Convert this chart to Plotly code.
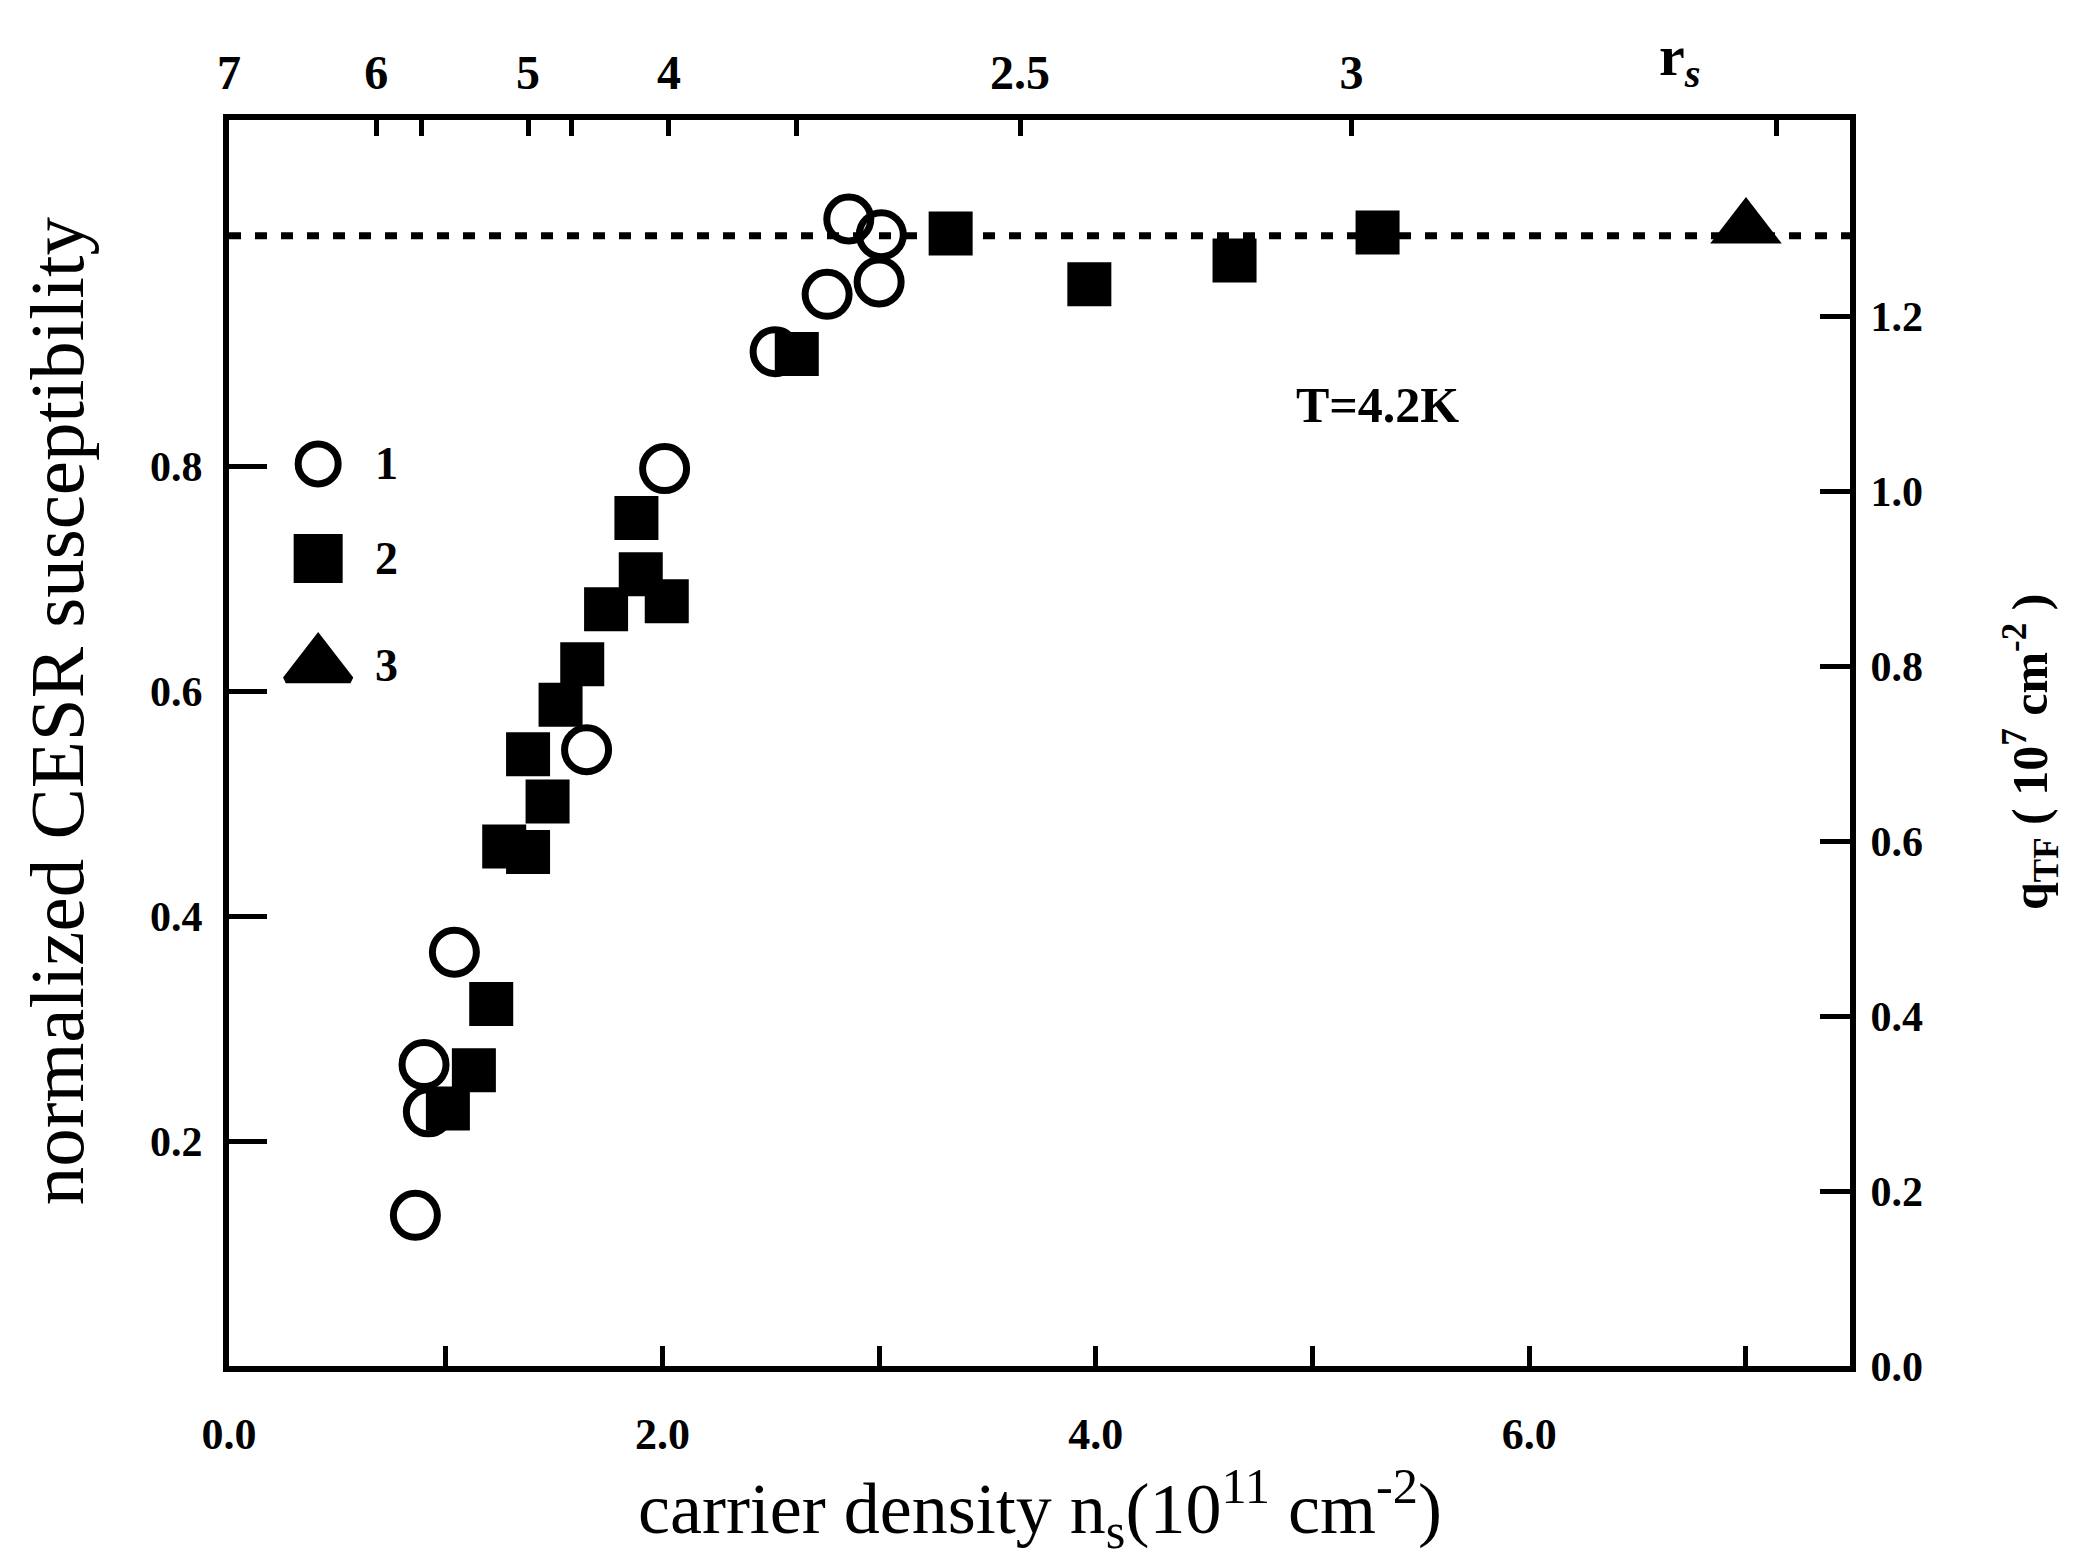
import plotly.graph_objects as go

# ---------------- data ----------------
circ_x = [0.86, 0.90, 0.92, 1.04, 1.65, 2.01, 2.52, 2.76, 2.86, 3.00, 3.01]
circ_y = [0.134, 0.268, 0.226, 0.368, 0.548, 0.798, 0.902, 0.953, 1.02, 0.964, 1.006]

sq_x = [1.01, 1.13, 1.21, 1.27, 1.38, 1.47, 1.38, 1.53, 1.63, 1.74, 1.90, 2.02, 1.88,
        2.62, 3.33, 3.97, 4.64, 5.30]
sq_y = [0.229, 0.263, 0.322, 0.462, 0.457, 0.502, 0.544, 0.588, 0.624, 0.673, 0.704, 0.68, 0.754,
        0.900, 1.007, 0.962, 0.983, 1.008]

tri_x = [7.0]
tri_y = [1.012]

ref_level = 1.005

x_tickvals = [0, 1, 2, 3, 4, 5, 6, 7]
x_ticktext = ["0.0", "", "2.0", "", "4.0", "", "6.0", ""]

y_tickvals = [0.2, 0.4, 0.6, 0.8]
y_ticktext = ["0.2", "0.4", "0.6", "0.8"]

q_tickvals = [0.0, 0.2, 0.4, 0.6, 0.8, 1.0, 1.2]
q_ticktext = ["0.0", "0.2", "0.4", "0.6", "0.8", "1.0", "1.2"]

rs_tickvals = [0.0, 0.68, 0.89, 1.38, 1.58, 2.03, 2.62, 3.65, 5.18, 7.14]
rs_ticktext = ["7", "6", "", "5", "", "4", "", "2.5", "3", ""]

legend_labels = ["1", "2", "3"]

# ---------------- styling ----------------
SERIF = "Liberation Serif"
BLACK = "black"
XR = [0, 7.48]
YR = [0, 1.108]
QR = [0, 1.424]

fig = go.Figure()

fig.add_trace(go.Scatter(
    x=sq_x, y=sq_y, mode="markers", showlegend=False,
    marker=dict(symbol="square", size=44, color=BLACK, line=dict(width=0)),
))
fig.add_trace(go.Scatter(
    x=circ_x, y=circ_y, mode="markers", showlegend=False,
    marker=dict(symbol="circle-open", size=44, color=BLACK, line=dict(width=7, color=BLACK)),
))
fig.add_trace(go.Scatter(
    x=tri_x, y=tri_y, mode="markers", showlegend=False,
    marker=dict(symbol="triangle-up", size=62, color=BLACK, line=dict(width=0)),
))

# dummy traces to activate secondary axes
fig.add_trace(go.Scatter(x=[None], y=[None], xaxis="x2", yaxis="y", showlegend=False))
fig.add_trace(go.Scatter(x=[None], y=[None], xaxis="x", yaxis="y2", showlegend=False))

# legend keys (drawn on an invisible [0,1] overlay axis pair)
leg_x = 0.055
leg_y = [0.724, 0.648, 0.562]
leg_sym = ["circle-open", "square", "triangle-up"]
leg_size = [40, 42, 56]
for sym, yy, sz in zip(leg_sym, leg_y, leg_size):
    fig.add_trace(go.Scatter(
        x=[leg_x], y=[yy], xaxis="x3", yaxis="y3", mode="markers", showlegend=False,
        marker=dict(symbol=sym, size=sz, color=BLACK, line=dict(width=7, color=BLACK)),
    ))

annotations = []
for lab, yy in zip(legend_labels, leg_y):
    annotations.append(dict(
        x=0.097, y=yy, xref="paper", yref="paper", text=lab, showarrow=False,
        xanchor="center", yanchor="middle",
        font=dict(family=SERIF, size=46, color=BLACK, weight="bold"),
    ))

annotations += [
    dict(x=5.30, y=0.855, xref="x", yref="y", text="T=4.2K", showarrow=False,
         xanchor="center", yanchor="middle",
         font=dict(family=SERIF, size=50, color=BLACK, weight="bold")),
    dict(x=(1680 - 229) / 1621, y=(1366 - 60) / 1246, xref="paper", yref="paper",
         text="r<sub><i>s</i></sub>", showarrow=False, xanchor="center", yanchor="middle",
         font=dict(family=SERIF, size=58, color=BLACK, weight="bold")),
    dict(x=0.5, y=-0.114, xref="paper", yref="paper",
         text="carrier density n<sub>s</sub>(10<sup>11</sup> cm<sup>-2</sup>)",
         showarrow=False, xanchor="center", yanchor="middle",
         font=dict(family=SERIF, size=72, color=BLACK)),
    dict(x=-0.106, y=(1366 - 711) / 1246, xref="paper", yref="paper",
         text="normalized CESR susceptibility", textangle=-90,
         showarrow=False, xanchor="center", yanchor="middle",
         font=dict(family=SERIF, size=77, color=BLACK)),
    dict(x=(2030 - 229) / 1621, y=(1366 - 752) / 1246, xref="paper", yref="paper",
         text="q<sub>TF</sub> ( 10<sup>7</sup> cm<sup>-2</sup> )", textangle=-90,
         showarrow=False, xanchor="center", yanchor="middle",
         font=dict(family=SERIF, size=50, color=BLACK, weight="bold")),
]

side_font = dict(family=SERIF, size=42, color=BLACK, weight="bold")
bottom_font = dict(family=SERIF, size=44, color=BLACK, weight="bold")

fig.update_layout(
    width=2085, height=1559,
    margin=dict(l=229, r=235, t=120, b=193, pad=0),
    paper_bgcolor="white", plot_bgcolor="white",
    showlegend=False,
    xaxis=dict(range=XR, tickvals=x_tickvals, ticktext=x_ticktext,
               ticks="inside", ticklen=20, tickwidth=5, tickcolor=BLACK,
               showline=True, linewidth=6, linecolor=BLACK, mirror=False,
               showgrid=False, zeroline=False, tickfont=bottom_font,
               ticklabelstandoff=24),
    xaxis2=dict(range=XR, overlaying="x", side="top", anchor="y",
                tickvals=rs_tickvals, ticktext=rs_ticktext,
                ticks="inside", ticklen=16, tickwidth=5, tickcolor=BLACK,
                showline=True, linewidth=6, linecolor=BLACK,
                showgrid=False, zeroline=False,
                tickfont=dict(family=SERIF, size=48, color=BLACK, weight="bold"),
                ticklabelstandoff=6),
    yaxis=dict(range=YR, tickvals=y_tickvals, ticktext=y_ticktext,
               ticks="inside", ticklen=38, tickwidth=5, tickcolor=BLACK,
               showline=True, linewidth=6, linecolor=BLACK,
               showgrid=False, zeroline=False, tickfont=side_font,
               ticklabelstandoff=12),
    yaxis2=dict(range=QR, overlaying="y", side="right", anchor="x",
                tickvals=q_tickvals, ticktext=q_ticktext,
                ticks="inside", ticklen=30, tickwidth=5, tickcolor=BLACK,
                showline=True, linewidth=6, linecolor=BLACK,
                showgrid=False, zeroline=False, tickfont=side_font,
                ticklabelstandoff=6),
    xaxis3=dict(range=[0, 1], overlaying="x", visible=False),
    yaxis3=dict(range=[0, 1], overlaying="y", visible=False),
    shapes=[dict(type="line", xref="paper", x0=0, x1=1, yref="y", y0=ref_level, y1=ref_level,
                 line=dict(color=BLACK, width=7, dash="12px,14px"), layer="below")],
    annotations=annotations,
)

fig.write_html("out.html")
